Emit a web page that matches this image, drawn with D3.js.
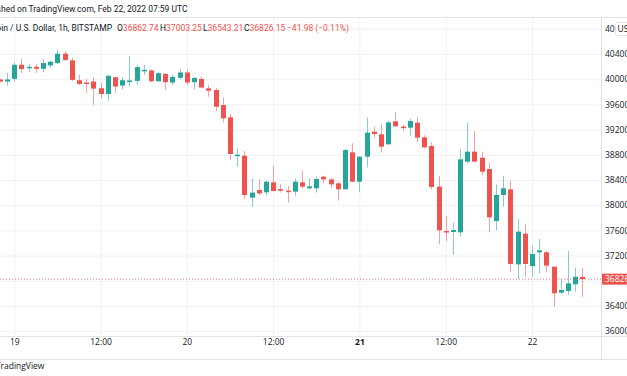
<!DOCTYPE html>
<html>
<head>
<meta charset="utf-8">
<script src="https://cdn.jsdelivr.net/npm/d3@7"></script>
<style>
  html, body { margin: 0; padding: 0; background: #fff; }
  svg { display: block; font-family: 'Open Sans', Roboto, sans-serif; }
</style>
</head>
<body>
<div id="chart"></div>
<script>
// hourly BTC/USD candles, Bitstamp, from Feb 18 22:00 UTC to Feb 22 07:00 UTC
const firstHour = Date.UTC(2022, 1, 18, 22);
const opens = [
  39995, 39963, 40005, 40229, 40176, 40197, 40165, 40219, 40256, 40405,
  40299, 39984, 39947, 39963, 39856, 39765, 40032, 39899, 39968, 39973,
  40133, 40139, 39968, 40085, 39947, 40021, 40107, 39952, 40005, 39855,
  39828, 39590, 39395, 38781, 38786, 38120, 38241, 38204, 38363, 38257,
  38231, 38215, 38363, 38268, 38268, 38453, 38410, 38347, 38252, 38839,
  38373, 38770, 39167, 39125, 38966, 39331, 39247, 39231, 39310, 39077,
  38940, 38294, 37590, 37575, 37569, 38691, 38850, 38754, 38575, 37749,
  38162, 38252, 37061, 37548, 37035, 37252, 37252, 37024, 36612, 36638,
  36744, 36862.74
];
const highs = [
  40010, 40101, 40267, 40320, 40240, 40245, 40320, 40299, 40469, 40443,
  40336, 40069, 40000, 40032, 39936, 40069, 40037, 40032, 40363, 40219,
  40229, 40155, 40112, 40096, 40080, 40165, 40149, 40032, 40043, 39908,
  39865, 39707, 39447, 38903, 38860, 38426, 38410, 38389, 38622, 38336,
  38305, 38426, 38543, 38426, 38453, 38469, 38437, 38373, 38892, 38982,
  38781, 39395, 39246, 39283, 39336, 39484, 39273, 39368, 39395, 39114,
  38998, 38464, 37829, 37728, 38887, 39310, 39178, 38850, 38665, 38331,
  38464, 38389, 37781, 37702, 37352, 37464, 37273, 37030, 36823, 37273,
  37008, 37003.25
];
const lows = [
  39950, 39899, 39963, 40096, 40112, 40101, 40107, 40176, 40245, 40299,
  39973, 39909, 39787, 39589, 39696, 39659, 39787, 39840, 39883, 39909,
  40069, 39952, 39957, 39829, 39904, 39995, 39909, 39840, 39856, 39723,
  39495, 39310, 38717, 38612, 38098, 37977, 38162, 38162, 38215, 38199,
  38040, 38151, 38268, 38252, 38199, 38347, 38268, 38072, 38252, 38373,
  38215, 38601, 39072, 38839, 38966, 39246, 39183, 39104, 38998, 38903,
  38252, 37379, 37432, 37210, 37500, 38665, 38680, 38479, 37569, 37601,
  37977, 36945, 36828, 36866, 36866, 36918, 36934, 36384, 36585, 36575,
  36628, 36543.21
];
const closes = [
  39963, 39995, 40229, 40160, 40197, 40165, 40256, 40277, 40405, 40304,
  39989, 39925, 39931, 39851, 39765, 40053, 39883, 39984, 39979, 40192,
  40149, 39968, 40096, 39952, 40037, 40107, 39947, 40021, 39867, 39818,
  39564, 39379, 38813, 38802, 38162, 38199, 38188, 38373, 38225, 38231,
  38215, 38373, 38294, 38299, 38416, 38410, 38331, 38252, 38876, 38373,
  38770, 39151, 39130, 38929, 39315, 39252, 39225, 39337, 39072, 38919,
  38289, 37601, 37569, 37606, 38728, 38850, 38691, 38532, 37807, 38162,
  38268, 37067, 37580, 37067, 37225, 37284, 37040, 36601, 36654, 36760,
  36863, 36826.15
];

const priceTicks = [36000, 36400, 36800, 37200, 37600, 38000, 38400, 38800, 39200, 39600, 40000, 40400, 40800];
// 36800 label sits under the last-price tag, so it is not printed
const priceLabels = [36000, 36400, 37200, 37600, 38000, 38400, 38800, 39200, 39600, 40000, 40400, 40800];
const timeTicks = [
  Date.UTC(2022, 1, 19, 0), Date.UTC(2022, 1, 19, 12), Date.UTC(2022, 1, 20, 0), Date.UTC(2022, 1, 20, 12),
  Date.UTC(2022, 1, 21, 0), Date.UTC(2022, 1, 21, 12), Date.UTC(2022, 1, 22, 0)
];
const timeLabels = ['19', '12:00', '20', '12:00', '21', '12:00', '22'];

const lastPrice = 36826.15;
const headerTop = 'Published on TradingView.com, Feb 22, 2022 07:59 UTC';
const symbolText = 'Bitcoin / U.S. Dollar, 1h, BITSTAMP';
const ohlcParts = [
  { key: 'O', val: '36862.74' },
  { key: 'H', val: '37003.25' },
  { key: 'L', val: '36543.21' },
  { key: 'C', val: '36826.15' }
];
const changeText = '\u221241.98 (\u22120.11%)';

const candles = opens.map((o, i) => ({
  t: new Date(firstHour + i * 3600e3),
  o, h: highs[i], l: lows[i], c: closes[i]
}));

const width = 627, height = 376;
const plot = { left: 0, right: 601, top: 17, bottom: 336 };
const upColor = '#26a69a';
const downColor = '#ef5350';
const gridColor = '#eff1f4';
const borderColor = '#e0e3eb';
const textColor = '#131722';
const headerFont = "Roboto, 'Open Sans', sans-serif";

const x = d3.scaleUtc()
  .domain([timeTicks[0], timeTicks[timeTicks.length - 1]])
  .range([14.3, 532.0]);

const y = d3.scaleLinear()
  .domain([36000, 40000])
  .range([331.2, 79.2]);

const svg = d3.select('#chart').append('svg')
  .attr('width', width)
  .attr('height', height);

svg.append('rect').attr('width', width).attr('height', height).attr('fill', '#fff');

svg.append('clipPath').attr('id', 'plotClip')
  .append('rect')
  .attr('x', plot.left).attr('y', plot.top)
  .attr('width', plot.right - plot.left).attr('height', plot.bottom - plot.top);

// Gridlines
svg.append('g')
  .attr('clip-path', 'url(#plotClip)')
  .call(d3.axisLeft(y).tickValues(priceTicks).tickSize(-plot.right).tickFormat(''))
  .call(g => g.select('.domain').remove())
  .call(g => g.selectAll('.tick line').attr('stroke', gridColor));

svg.append('g')
  .attr('transform', `translate(0,${plot.bottom})`)
  .call(d3.axisBottom(x).tickValues(timeTicks).tickSize(-(plot.bottom - plot.top)).tickFormat(''))
  .call(g => g.select('.domain').remove())
  .call(g => g.selectAll('.tick line').attr('stroke', gridColor));

// Borders
svg.append('line').attr('x1', 0).attr('x2', width).attr('y1', plot.top + 0.5).attr('y2', plot.top + 0.5).attr('stroke', borderColor);
svg.append('line').attr('x1', 0).attr('x2', width).attr('y1', plot.bottom + 0.5).attr('y2', plot.bottom + 0.5).attr('stroke', borderColor);
svg.append('line').attr('x1', 0).attr('x2', width).attr('y1', 359.5).attr('y2', 359.5).attr('stroke', borderColor);
svg.append('line').attr('x1', plot.right + 0.5).attr('x2', plot.right + 0.5).attr('y1', plot.top).attr('y2', 359).attr('stroke', borderColor);

// Candles
const candleG = svg.append('g').attr('clip-path', 'url(#plotClip)');
const bodyW = 5;

const cg = candleG.selectAll('g.candle')
  .data(candles)
  .join('g')
  .attr('class', 'candle');

cg.append('line')
  .attr('x1', d => Math.round(x(d.t)) + 0.5)
  .attr('x2', d => Math.round(x(d.t)) + 0.5)
  .attr('y1', d => y(d.h))
  .attr('y2', d => y(d.l))
  .attr('stroke', d => d.c >= d.o ? upColor : downColor)
  .attr('stroke-opacity', 0.55)
  .attr('stroke-width', 1);

cg.append('rect')
  .attr('x', d => Math.round(x(d.t)) + 0.5 - bodyW / 2)
  .attr('y', d => y(Math.max(d.o, d.c)))
  .attr('width', bodyW)
  .attr('height', d => Math.max(1.5, Math.abs(y(d.o) - y(d.c))))
  .attr('fill', d => d.c >= d.o ? upColor : downColor);

// Last price line
svg.append('line')
  .attr('x1', 0).attr('x2', plot.right)
  .attr('y1', y(lastPrice)).attr('y2', y(lastPrice))
  .attr('stroke', downColor)
  .attr('stroke-opacity', 0.8)
  .attr('stroke-dasharray', '1 2');

// Price axis labels
svg.append('g')
  .attr('transform', `translate(${plot.right},0)`)
  .call(d3.axisRight(y).tickValues(priceLabels).tickSize(0).tickFormat(d3.format('d')))
  .call(g => g.select('.domain').remove())
  .call(g => g.selectAll('.tick text')
    .attr('x', 4)
    .attr('fill', textColor)
    .attr('font-size', '8.5px')
    .attr('font-family', "'Open Sans', Roboto, sans-serif"));

// Last price tag
svg.append('rect')
  .attr('x', plot.right + 1).attr('y', y(lastPrice) - 5.5)
  .attr('width', width - plot.right).attr('height', 11)
  .attr('fill', downColor);
svg.append('text')
  .attr('x', plot.right + 4).attr('y', y(lastPrice))
  .attr('dy', '0.35em')
  .attr('fill', '#fff')
  .attr('font-size', '8.5px')
  .text(d3.format('d')(Math.floor(lastPrice)));

// Currency button
svg.append('rect')
  .attr('x', 615.5).attr('y', 22.5).attr('width', 16).attr('height', 13).attr('rx', 2)
  .attr('fill', '#fff').attr('stroke', borderColor);
svg.append('text')
  .attr('x', 617.5).attr('y', 29).attr('dy', '0.35em')
  .attr('fill', textColor).attr('font-size', '8.5px')
  .text('USD');

// Time axis labels
svg.append('g')
  .attr('transform', `translate(0,${plot.bottom})`)
  .call(d3.axisBottom(x).tickValues(timeTicks).tickSize(0).tickFormat((d, i) => timeLabels[i]))
  .call(g => g.select('.domain').remove())
  .call(g => g.selectAll('.tick text')
    .attr('dy', '0.71em')
    .attr('y', 3)
    .attr('fill', textColor)
    .attr('font-size', '8.5px')
    .attr('font-family', "'Open Sans', Roboto, sans-serif")
    .attr('font-weight', (d, i) => timeLabels[i] === '21' ? 'bold' : 'normal'));

// Header lines (cropped on the left like the source image)
const measure = (str, size, family) => {
  const t = svg.append('text').attr('font-size', size).attr('font-family', family).text(str);
  const w = t.node().getComputedTextLength();
  t.remove();
  return w;
};

svg.append('text')
  .attr('x', -measure('Publis', '8.5px', headerFont) + 1)
  .attr('y', 12)
  .attr('fill', textColor)
  .attr('font-size', '8.5px')
  .attr('font-family', headerFont)
  .text(headerTop);

svg.append('text')
  .attr('x', 112)
  .attr('y', 31)
  .attr('text-anchor', 'end')
  .attr('fill', textColor)
  .attr('font-size', '8.5px')
  .attr('font-family', headerFont)
  .text(symbolText);

const ohlcX = [117, 160, 203, 244];
ohlcParts.forEach((p, i) => {
  const t = svg.append('text')
    .attr('x', ohlcX[i])
    .attr('y', 31)
    .attr('font-size', '8.5px')
    .attr('font-family', headerFont);
  t.append('tspan').attr('fill', textColor).text(p.key);
  t.append('tspan').attr('fill', downColor).text(p.val);
});

svg.append('text')
  .attr('x', 287)
  .attr('y', 31)
  .attr('fill', downColor)
  .attr('font-size', '8.5px')
  .attr('font-family', headerFont)
  .text(changeText);

// Footer brand text
svg.append('text')
  .attr('x', -measure('T', '8.5px', "'Open Sans', Roboto, sans-serif") + 0.5)
  .attr('y', 369)
  .attr('fill', textColor)
  .attr('font-size', '8.5px')
  .text('TradingView');
</script>
</body>
</html>
